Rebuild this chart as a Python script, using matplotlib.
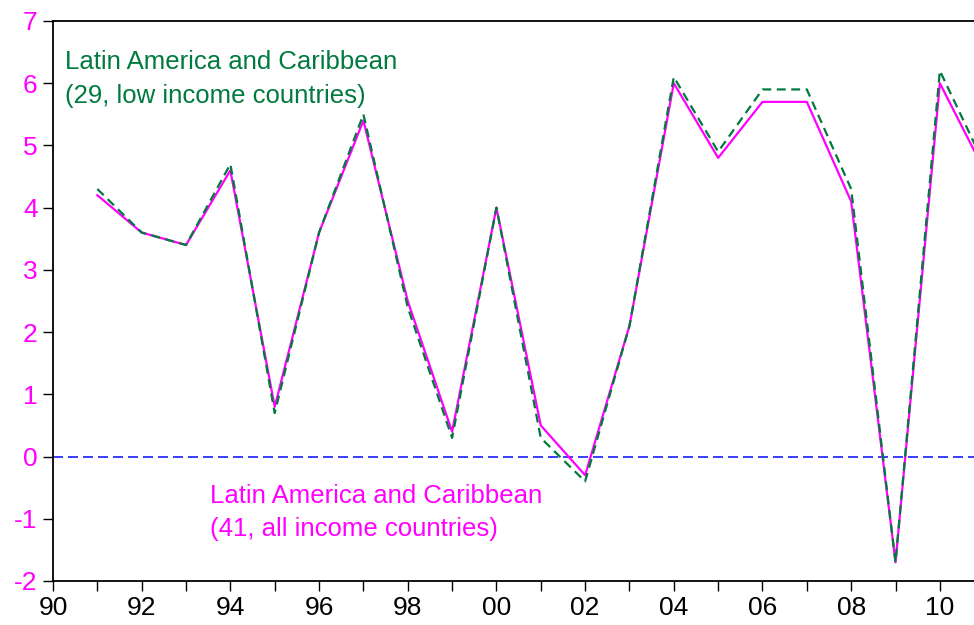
import matplotlib
matplotlib.use("Agg")
import matplotlib.pyplot as plt
from matplotlib.ticker import MultipleLocator, FuncFormatter

# DATA
years = list(range(1991, 2012))
all_income = [4.2, 3.6, 3.4, 4.6, 0.8, 3.6, 5.4, 2.5, 0.4, 4.0,
              0.5, -0.3, 2.1, 6.0, 4.8, 5.7, 5.7, 4.1, -1.7, 6.0, 4.6]
low_income = [4.3, 3.6, 3.4, 4.7, 0.7, 3.6, 5.5, 2.4, 0.3, 4.0,
              0.3, -0.4, 2.1, 6.1, 4.9, 5.9, 5.9, 4.3, -1.7, 6.2, 4.7]

plt.rcParams['font.family'] = ['Liberation Sans', 'DejaVu Sans']
plt.rcParams['axes.unicode_minus'] = False

# FIGURE
fig = plt.figure(figsize=(9.74, 6.25), dpi=100)
ax = fig.add_axes([53/974, 44/625, 1 - 53/974, 560/625])

ax.axhline(0, color='#1a1aff', lw=1.2, ls=(0, (6, 3)))
ax.plot(years, all_income, color='#ff00ff', lw=1.6)
ax.plot(years, low_income, color='#007a3d', lw=1.6, ls=(0, (4, 2.5)))

ax.set_xlim(1990, 2010.77)
ax.set_ylim(-2, 7)

ax.xaxis.set_major_locator(MultipleLocator(2))
ax.xaxis.set_minor_locator(MultipleLocator(1))
ax.xaxis.set_major_formatter(FuncFormatter(lambda v, p: f"{int(round(v)) % 100:02d}"))
ax.yaxis.set_major_locator(MultipleLocator(1))

ax.tick_params(axis='both', which='both', direction='out', length=7, width=1,
               labelsize=19, pad=4)
ax.tick_params(axis='y', labelcolor='#ff00ff')
ax.spines['right'].set_visible(False)
for s in ['left', 'bottom', 'top']:
    ax.spines[s].set_linewidth(1.3)

ax.text(1990.27, 6.07, "Latin America and Caribbean\n(29, low income countries)",
        color='#007a3d', fontsize=18.5, va='center', linespacing=1.5)
ax.text(1993.55, -0.9, "Latin America and Caribbean\n(41, all income countries)",
        color='#ff00ff', fontsize=18.5, va='center', linespacing=1.45)

fig.savefig("out.png", dpi=100)
